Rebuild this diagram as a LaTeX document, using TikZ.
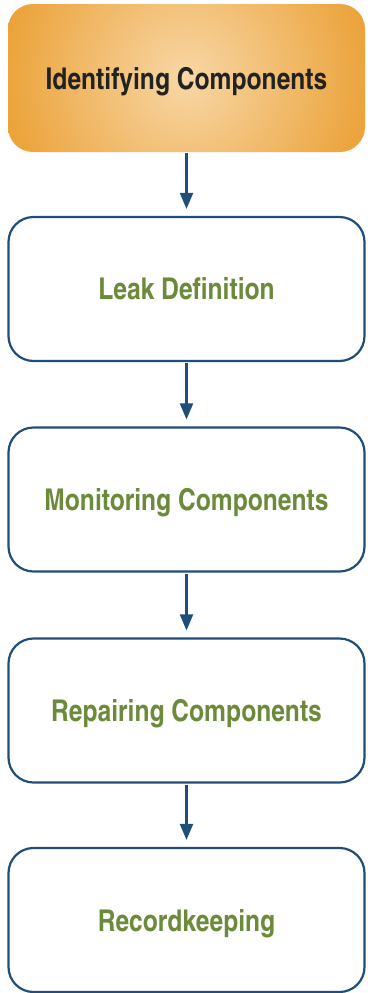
\documentclass[tikz,border=0pt]{standalone}
\usepackage{fontspec}
\setmainfont{TeX Gyre Heros Cn}
\usetikzlibrary{arrows.meta}
\definecolor{bluel}{HTML}{1F4E79}
\definecolor{greent}{HTML}{6B8B3A}
\definecolor{orout}{HTML}{E8941C}
\definecolor{orin}{HTML}{F8D7A6}
\definecolor{darkt}{HTML}{222222}
\tikzset{
  stepbox/.style={draw=bluel, line width=2.2pt, rounded corners=25pt, fill=white,
    minimum width=356pt, minimum height=144pt, inner sep=0pt, text depth=0pt,
    font=\fontsize{30}{33}\selectfont\bfseries, text=greent},
  topbox/.style={rounded corners=25pt,
    path picture={\shade[inner color=orin, outer color=orout]
      (path picture bounding box.center) circle (235pt);},
    minimum width=357pt, minimum height=148pt, inner sep=0pt, text depth=0pt,
    font=\fontsize{30}{33}\selectfont\bfseries, text=darkt},
  arr/.style={draw=bluel, line width=2.2pt, -{Triangle[width=13pt,length=16pt]},
    shorten >=7pt, shorten <=1pt}
}
\begin{document}
\begin{tikzpicture}[x=1pt,y=-1pt]
\useasboundingbox (0,0) rectangle (367,993);
\node[topbox] (b1) at (186.5,78) {Identifying Components};
\node[stepbox] (b2) at (186.5,289) {Leak Definition};
\node[stepbox] (b3) at (186.5,499.5) {Monitoring Components};
\node[stepbox] (b4) at (186.5,710.5) {Repairing Components};
\node[stepbox] (b5) at (186.5,920) {Recordkeeping};
\draw[arr] (b1) -- (b2);
\draw[arr] (b2) -- (b3);
\draw[arr] (b3) -- (b4);
\draw[arr] (b4) -- (b5);
\end{tikzpicture}
\end{document}
